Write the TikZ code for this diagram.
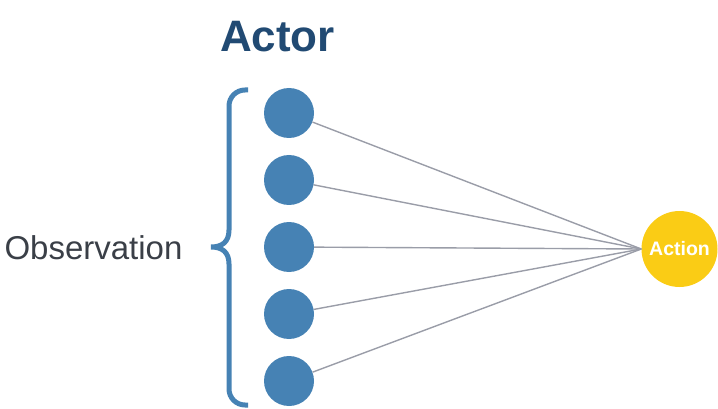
\documentclass[tikz,border=0pt]{standalone}
\usepackage{fontspec}
\setmainfont{Liberation Sans}
\definecolor{nodeblue}{HTML}{4682B4}
\definecolor{actyellow}{HTML}{FACC15}
\definecolor{linegray}{HTML}{9A9DA8}
\definecolor{titleblue}{HTML}{214A73}
\definecolor{textgray}{HTML}{3A3F47}
\begin{document}
\begin{tikzpicture}[x=1pt,y=-1pt,
  obs/.style={circle,fill=nodeblue,draw=none,minimum size=50pt,inner sep=0pt},
  act/.style={circle,fill=actyellow,draw=none,minimum size=76pt,inner sep=0pt,
    text=white,font=\fontsize{19.5}{19.5}\selectfont\bfseries},
  wire/.style={draw=linegray,line width=1.4pt},
  bracestyle/.style={draw=nodeblue,line width=5pt}]
\useasboundingbox (0,0) rectangle (718,409);
\node[anchor=base,text=titleblue,font=\fontsize{44}{44}\selectfont\bfseries] (title) at (277.5,52) {Actor};
\node[anchor=base,text=textgray,font=\fontsize{33}{33}\selectfont] (obslabel) at (93.5,259) {Observation};
\node[obs] (o1) at (289,113) {};
\node[obs] (o2) at (289,180) {};
\node[obs] (o3) at (289,247) {};
\node[obs] (o4) at (289,314) {};
\node[obs] (o5) at (289,381) {};
\node[act] (action) at (679.5,249) {Action};
\foreach \i in {1,...,5}{\draw[wire] (o\i) -- (action.west);}
\draw[bracestyle] (248,90) -- (245,90) arc[start angle=-90,end angle=-180,radius=16]
  -- (229,230) .. controls (229,242) and (222,247) .. (211,247)
  .. controls (222,247) and (229,252) .. (229,264)
  -- (229,389) arc[start angle=180,end angle=90,radius=16] -- (248,405);
\end{tikzpicture}
\end{document}
